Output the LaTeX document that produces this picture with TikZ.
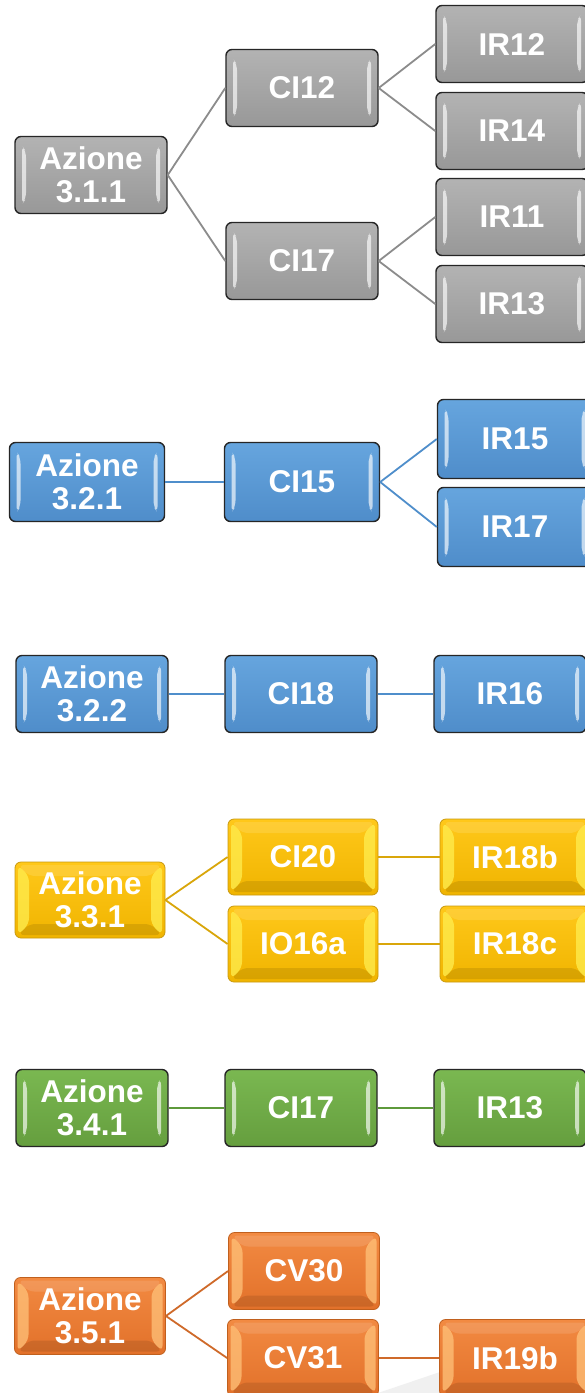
\documentclass[tikz,border=0pt]{standalone}
\usepackage{fontspec}
\setmainfont{Liberation Sans}
\usetikzlibrary{calc}
\definecolor{gtop}{HTML}{B3B3B3}
\definecolor{gbot}{HTML}{989898}
\definecolor{btop}{HTML}{66A5DE}
\definecolor{bbot}{HTML}{4F8DCA}
\definecolor{ytop}{HTML}{FFC81A}
\definecolor{ybot}{HTML}{F0B400}
\definecolor{ydraw}{HTML}{C99A10}
\definecolor{ylite}{HTML}{FFEE50}
\definecolor{vtop}{HTML}{7AB851}
\definecolor{vbot}{HTML}{659E3E}
\definecolor{otop}{HTML}{F28A42}
\definecolor{obot}{HTML}{E2712A}
\definecolor{odraw}{HTML}{C0601E}
\definecolor{olite}{HTML}{FFC27A}
\definecolor{gline}{HTML}{8C8C8C}
\definecolor{bline}{HTML}{4F8ECB}
\definecolor{yline}{HTML}{D9A60A}
\definecolor{vline}{HTML}{5E9A3B}
\definecolor{oline}{HTML}{CF6A2A}
\tikzset{
  box/.style={rectangle, rounded corners=6pt, minimum width=152pt, minimum height=77pt,
    inner sep=0pt, text=white, align=center, line width=1.4pt,
    font=\fontsize{31.5}{33}\selectfont\bfseries},
  bars/.style={path picture={
    \fill[white,opacity=.65] ($(path picture bounding box.north west)+(7,9)$) -- ($(path picture bounding box.north west)+(11,15)$) -- ($(path picture bounding box.south west)+(11,-15)$) -- ($(path picture bounding box.south west)+(7,-9)$) -- cycle;
    \fill[white,opacity=.65] ($(path picture bounding box.north east)+(-7,9)$) -- ($(path picture bounding box.north east)+(-11,15)$) -- ($(path picture bounding box.south east)+(-11,-15)$) -- ($(path picture bounding box.south east)+(-7,-9)$) -- cycle;
  }},
  frame/.style={path picture={
    \fill[#1,opacity=.75] ($(path picture bounding box.north west)+(3,3)$) -- ($(path picture bounding box.north west)+(14,14)$) -- ($(path picture bounding box.south west)+(14,-14)$) -- ($(path picture bounding box.south west)+(3,-3)$) -- cycle;
    \fill[#1,opacity=.75] ($(path picture bounding box.north east)+(-3,3)$) -- ($(path picture bounding box.north east)+(-14,14)$) -- ($(path picture bounding box.south east)+(-14,-14)$) -- ($(path picture bounding box.south east)+(-3,-3)$) -- cycle;
    \fill[white,opacity=.12] ($(path picture bounding box.north west)+(3,3)$) -- ($(path picture bounding box.north west)+(14,14)$) -- ($(path picture bounding box.north east)+(-14,14)$) -- ($(path picture bounding box.north east)+(-3,3)$) -- cycle;
    \fill[black,opacity=.1] ($(path picture bounding box.south west)+(3,-3)$) -- ($(path picture bounding box.south west)+(14,-14)$) -- ($(path picture bounding box.south east)+(-14,-14)$) -- ($(path picture bounding box.south east)+(-3,-3)$) -- cycle;
  }},
  grbox/.style={box, bars, draw=black!85, top color=gtop, bottom color=gbot},
  blbox/.style={box, bars, draw=black!85, top color=btop, bottom color=bbot},
  yebox/.style={box, frame=ylite, draw=ydraw, line width=0.8pt, top color=ytop, bottom color=ybot},
  grnbox/.style={box, bars, draw=black!85, top color=vtop, bottom color=vbot},
  orbox/.style={box, frame=olite, draw=odraw, line width=0.8pt, top color=otop, bottom color=obot},
  conn/.style={line width=1.8pt},
}
\begin{document}
\begin{tikzpicture}[x=1pt,y=-1pt]
\useasboundingbox (0,0) rectangle (585,1393);
\clip (0,0) rectangle (585,1393);
\fill[white] (0,0) rectangle (585,1393);
% faint reflection
\fill[black!6] (378,1393) -- (440,1372) -- (440,1393) -- cycle;

% gray group
\node[grbox] (a311) at (91,175) {Azione\\3.1.1};
\node[grbox] (ci12) at (302,88) {CI12};
\node[grbox] (ci17) at (302,261) {CI17};
\node[grbox] (ir12) at (512,44) {IR12};
\node[grbox] (ir14) at (512,131) {IR14};
\node[grbox] (ir11) at (512,217) {IR11};
\node[grbox] (ir13) at (512,304) {IR13};
\draw[conn,gline] (a311.east) -- (ci12.west);
\draw[conn,gline] (a311.east) -- (ci17.west);
\draw[conn,gline] (ci12.east) -- (ir12.west);
\draw[conn,gline] (ci12.east) -- (ir14.west);
\draw[conn,gline] (ci17.east) -- (ir11.west);
\draw[conn,gline] (ci17.east) -- (ir13.west);

% blue group 1
\node[blbox, minimum width=155pt, minimum height=79pt] (a321) at (87,482) {Azione\\3.2.1};
\node[blbox, minimum width=155pt, minimum height=79pt] (ci15) at (302,482) {CI15};
\node[blbox, minimum width=155pt, minimum height=79pt] (ir15) at (515,439) {IR15};
\node[blbox, minimum width=155pt, minimum height=79pt] (ir17) at (515,527) {IR17};
\draw[conn,bline] (a321.east) -- (ci15.west);
\draw[conn,bline] (ci15.east) -- (ir15.west);
\draw[conn,bline] (ci15.east) -- (ir17.west);

% blue group 2
\node[blbox] (a322) at (92,694) {Azione\\3.2.2};
\node[blbox] (ci18) at (301,694) {CI18};
\node[blbox] (ir16) at (510,694) {IR16};
\draw[conn,bline] (a322.east) -- (ci18.west);
\draw[conn,bline] (ci18.east) -- (ir16.west);

% yellow group
\node[yebox, minimum width=150pt, minimum height=76pt] (a331) at (90,900) {Azione\\3.3.1};
\node[yebox, minimum width=150pt, minimum height=76pt] (ci20) at (303,857) {CI20};
\node[yebox, minimum width=150pt, minimum height=76pt] (io16a) at (303,944) {IO16a};
\node[yebox, minimum width=150pt, minimum height=76pt] (ir18b) at (515,857) {IR18b};
\node[yebox, minimum width=150pt, minimum height=76pt] (ir18c) at (515,944) {IR18c};
\draw[conn,yline] (a331.east) -- (ci20.west);
\draw[conn,yline] (a331.east) -- (io16a.west);
\draw[conn,yline] (ci20.east) -- (ir18b.west);
\draw[conn,yline] (io16a.east) -- (ir18c.west);

% green group
\node[grnbox] (a341) at (92,1108) {Azione\\3.4.1};
\node[grnbox] (ci17g) at (301,1108) {CI17};
\node[grnbox] (ir13g) at (510,1108) {IR13};
\draw[conn,vline] (a341.east) -- (ci17g.west);
\draw[conn,vline] (ci17g.east) -- (ir13g.west);

% orange group
\node[orbox, minimum width=151pt, minimum height=77pt] (a351) at (90,1316) {Azione\\3.5.1};
\node[orbox, minimum width=151pt, minimum height=77pt] (cv30) at (304,1271) {CV30};
\node[orbox, minimum width=151pt, minimum height=77pt] (cv31) at (303,1358) {CV31};
\node[orbox, minimum width=151pt, minimum height=77pt] (ir19b) at (515,1358) {IR19b};
\draw[conn,oline] (a351.east) -- (cv30.west);
\draw[conn,oline] (a351.east) -- (cv31.west);
\draw[conn,oline] (cv31.east) -- (ir19b.west);
\end{tikzpicture}
\end{document}
